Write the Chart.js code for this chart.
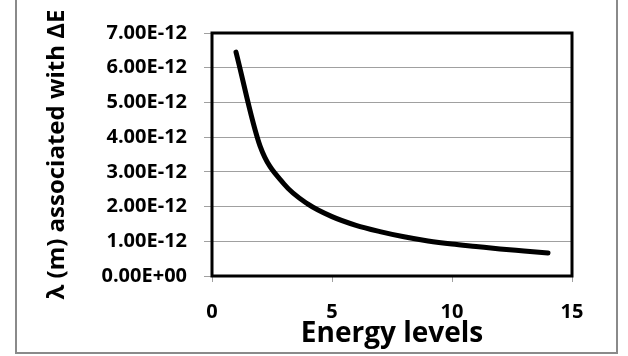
<!DOCTYPE html>
<html>
<head>
<meta charset="utf-8">
<script src="https://cdn.jsdelivr.net/npm/chart.js@4.4.1/dist/chart.umd.min.js"></script>
<style>
  html, body { margin: 0; padding: 0; background: #fff; }
  #wrap { position: relative; width: 628px; height: 356px; }
</style>
</head>
<body>
<div id="wrap"><canvas id="c" width="628" height="356"></canvas></div>
<script>
// Data
const energyLevels = [1, 2, 3, 4, 5, 6, 7, 8, 9, 10, 11, 12, 13, 14];
const wavelengths = [6.45e-12, 3.75e-12, 2.65e-12, 2.07e-12, 1.71e-12, 1.46e-12, 1.28e-12,
                     1.13e-12, 1.01e-12, 0.92e-12, 0.85e-12, 0.78e-12, 0.72e-12, 0.66e-12];
const xTickValues = [0, 5, 10, 15];
const yTickValues = [0, 1e-12, 2e-12, 3e-12, 4e-12, 5e-12, 6e-12, 7e-12];
const xTitle = 'Energy levels';
const yTitle = 'λ (m) associated with ΔE';

const FONT = '"Open Sans", Lato, "DejaVu Sans", sans-serif';

function sci(v) {
  let s = v.toExponential(2).toUpperCase();
  const m = s.match(/^(-?[\d.]+)E([+-])(\d+)$/);
  if (m) s = m[1] + 'E' + m[2] + m[3].padStart(2, '0');
  return s;
}

const frame = {
  id: 'frame',
  beforeDraw(chart) {
    const ctx = chart.ctx;
    ctx.save();
    ctx.fillStyle = '#fff';
    ctx.fillRect(0, 0, chart.width, chart.height);
    ctx.strokeStyle = '#8a8a8a';
    ctx.lineWidth = 2;
    ctx.beginPath();
    ctx.moveTo(16, 0);
    ctx.lineTo(16, 353);
    ctx.lineTo(617, 353);
    ctx.lineTo(617, 0);
    ctx.stroke();
    ctx.restore();
  },
  afterDraw(chart) {
    const a = chart.chartArea;
    const ctx = chart.ctx;
    ctx.save();
    ctx.strokeStyle = '#000';
    ctx.lineWidth = 3;
    ctx.strokeRect(a.left, a.top, a.right - a.left, a.bottom - a.top);
    ctx.restore();
  }
};

new Chart(document.getElementById('c'), {
  type: 'scatter',
  data: {
    datasets: [{
      data: energyLevels.map((x, i) => ({ x: x, y: wavelengths[i] })),
      showLine: true,
      borderColor: '#000',
      borderWidth: 5,
      borderCapStyle: 'round',
      pointRadius: 0,
      cubicInterpolationMode: 'monotone',
      fill: false
    }]
  },
  options: {
    responsive: false,
    animation: false,
    devicePixelRatio: 1,
    layout: { padding: { left: 0, top: 33, right: 56, bottom: 0 } },
    plugins: { legend: { display: false }, tooltip: { enabled: false } },
    scales: {
      x: {
        type: 'linear',
        min: 0, max: 15,
        afterBuildTicks(scale) { scale.ticks = xTickValues.map(v => ({ value: v })); },
        afterFit(scale) { scale.height = 80; },
        grid: { drawOnChartArea: false, tickLength: 6, tickColor: '#a0a0a0', lineWidth: 1 },
        border: { display: false },
        ticks: { color: '#000', padding: 18, font: { family: FONT, size: 20, weight: 'bold' } },
        title: { display: true, text: xTitle, color: '#000', padding: { top: 0, bottom: 5 },
                 font: { family: FONT, size: 28, weight: 'bold' } }
      },
      y: {
        type: 'linear',
        min: 0, max: 7e-12,
        afterBuildTicks(scale) { scale.ticks = yTickValues.map(v => ({ value: v })); },
        afterFit(scale) { scale.width = 212; },
        grid: { color: '#a0a0a0', lineWidth: 1, tickLength: 8, tickColor: '#a0a0a0' },
        border: { display: false },
        ticks: { color: '#000', padding: 17, callback: v => sci(v),
                 font: { family: FONT, size: 20, weight: 'bold' } },
        title: { display: true, text: yTitle, color: '#000', padding: { top: 43, bottom: 0 },
                 font: { family: FONT, size: 24, weight: 'bold' } }
      }
    }
  },
  plugins: [frame]
});
</script>
</body>
</html>
